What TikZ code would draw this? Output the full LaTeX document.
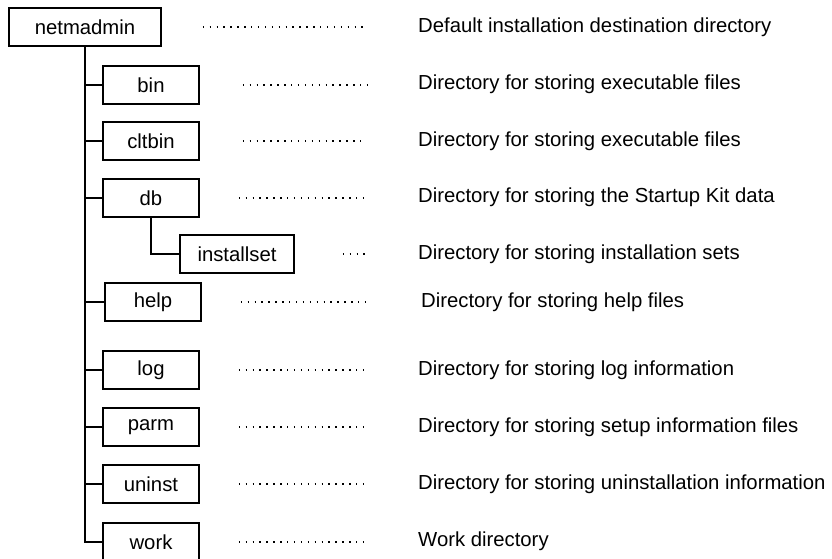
\documentclass[tikz,border=0pt]{standalone}
\usepackage{fontspec}
\setmainfont{Liberation Sans}
\usetikzlibrary{positioning}
\tikzstyle{dir}    = [rectangle, draw, line width=1.5pt, minimum height=38pt,
                      minimum width=96pt, inner sep=0pt, text centered,
                      font=\fontsize{20.3}{24}\selectfont]
\tikzstyle{desc}   = [anchor=west, inner sep=0pt, font=\fontsize{20.3}{24}\selectfont]
\tikzstyle{tree}   = [draw, line width=1.6pt]
\tikzstyle{leader} = [draw, line width=1.4pt, dash pattern=on 1.4pt off 5.5pt]

\begin{document}
\begin{tikzpicture}[x=1pt, y=-1pt]
		\useasboundingbox (0,0) rectangle (832,559);
		% directory boxes
		\node[dir, minimum width=152pt] (netmadmin) at (85,27) {netmadmin};
		\node[dir] (bin) at (151,85) {bin};
		\node[dir] (cltbin) at (151,141) {cltbin};
		\node[dir] (db) at (151,198) {db};
		\node[dir, minimum width=114pt] (installset) at (237,254) {installset};
		\node[dir] (help) at (153,302) {help};
		\node[dir] (log) at (151,370) {log};
		\node[dir] (parm) at (151,427) {parm};
		\node[dir] (uninst) at (151,484) {uninst};
		\node[dir] (work) at (151,542) {work};

		% descriptions
		\node[desc] (dnetmadmin) at (418,27) {Default installation destination directory};
		\node[desc] (dbin) at (418,84) {Directory for storing executable files};
		\node[desc] (dcltbin) at (418,141) {Directory for storing executable files};
		\node[desc] (ddb) at (418,197) {Directory for storing the Startup Kit data};
		\node[desc] (dinstallset) at (418,254) {Directory for storing installation sets};
		\node[desc] (dhelp) at (421,302) {Directory for storing help files};
		\node[desc] (dlog) at (418,370) {Directory for storing log information};
		\node[desc] (dparm) at (418,427) {Directory for storing setup information files};
		\node[desc] (duninst) at (418,484) {Directory for storing uninstallation information};
		\node[desc] (dwork) at (418,541) {Work directory};

		% tree lines
		\draw[tree] (netmadmin.south) |- (work.west);
		\draw[tree] (bin.west) -- (bin.west -| netmadmin.south);
		\draw[tree] (cltbin.west) -- (cltbin.west -| netmadmin.south);
		\draw[tree] (db.west) -- (db.west -| netmadmin.south);
		\draw[tree] (help.west) -- (help.west -| netmadmin.south);
		\draw[tree] (log.west) -- (log.west -| netmadmin.south);
		\draw[tree] (parm.west) -- (parm.west -| netmadmin.south);
		\draw[tree] (uninst.west) -- (uninst.west -| netmadmin.south);
		\draw[tree] (db.south) |- (installset.west);

		% dotted leaders
		\draw[leader] ([xshift=41pt]netmadmin.east) -- ([xshift=-51pt]dnetmadmin.west |- netmadmin.east);
		\draw[leader] ([xshift=43pt]bin.east) -- ([xshift=-51pt]dbin.west |- bin.east);
		\draw[leader] ([xshift=43pt]cltbin.east) -- ([xshift=-53pt]dcltbin.west |- cltbin.east);
		\draw[leader] ([xshift=39pt]db.east) -- ([xshift=-50pt]ddb.west |- db.east);
		\draw[leader] ([xshift=48pt]installset.east) -- ([xshift=-50pt]dinstallset.west |- installset.east);
		\draw[leader] ([xshift=39pt]help.east) -- ([xshift=-52pt]dhelp.west |- help.east);
		\draw[leader] ([xshift=39pt]log.east) -- ([xshift=-51pt]dlog.west |- log.east);
		\draw[leader] ([xshift=39pt]parm.east) -- ([xshift=-51pt]dparm.west |- parm.east);
		\draw[leader] ([xshift=39pt]uninst.east) -- ([xshift=-51pt]duninst.west |- uninst.east);
		\draw[leader] ([xshift=39pt]work.east) -- ([xshift=-51pt]dwork.west |- work.east);
	\end{tikzpicture}
\end{document}
